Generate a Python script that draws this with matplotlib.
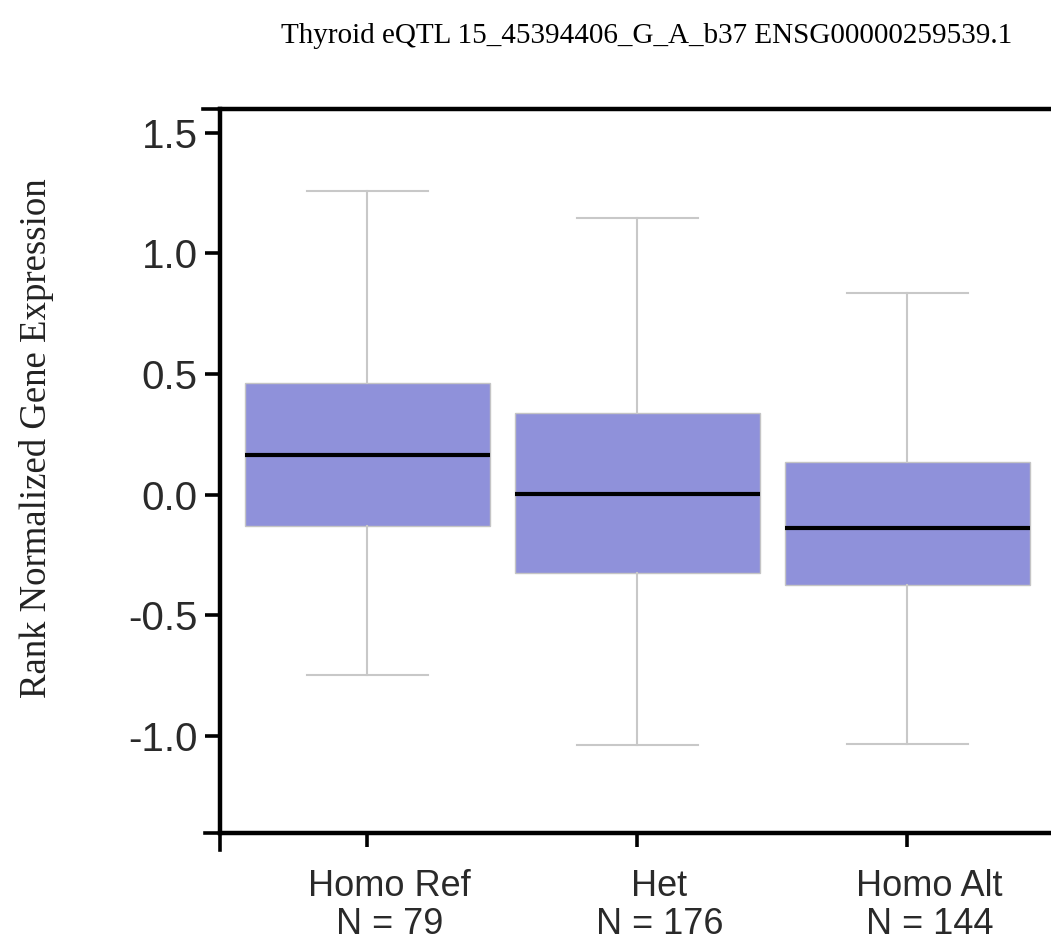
import matplotlib
matplotlib.use("Agg")
import matplotlib.pyplot as plt
import matplotlib.transforms as mtransforms

# Genotype groups and box statistics
genotypes = ["Homo Ref", "Het", "Homo Alt"]
counts = [79, 176, 144]
whisker_hi = [1.260, 1.145, 0.836]
q3 = [0.464, 0.337, 0.137]
median = [0.165, 0.004, -0.139]
q1 = [-0.128, -0.323, -0.375]
whisker_lo = [-0.747, -1.037, -1.033]
yticks = [-1.0, -0.5, 0.0, 0.5, 1.0, 1.5]

stats = []
for i in range(len(genotypes)):
    stats.append({"med": median[i], "q1": q1[i], "q3": q3[i],
                  "whislo": whisker_lo[i], "whishi": whisker_hi[i],
                  "fliers": [], "label": f"{genotypes[i]}\nN = {counts[i]}"})

fig = plt.figure(figsize=(10.51, 9.41), dpi=100)
ax = fig.add_axes([220 / 1051, 1 - 833 / 941, 831 / 1051, 724 / 941])

pos = list(range(len(genotypes)))
ax.bxp(stats, positions=pos, widths=0.907, capwidths=0.448, patch_artist=True,
       showfliers=False,
       boxprops=dict(facecolor="#8f91da", edgecolor="#c4c4c4", linewidth=1.0),
       whiskerprops=dict(color="#c8c8c8", linewidth=1.5),
       capprops=dict(color="#c8c8c8", linewidth=1.5),
       medianprops=dict(color="black", linewidth=3))

ax.set_xlim(-0.5463, 2.5315)
ax.set_ylim(-1.402, 1.598)
ax.set_yticks(yticks)
ax.set_yticklabels([f"{v:.1f}" for v in yticks])

ax.spines["right"].set_visible(False)
for s in ["left", "top", "bottom"]:
    ax.spines[s].set_linewidth(3.2)
    ax.spines[s].set_color("black")

ax.tick_params(axis="y", length=11, width=2.6, pad=5, labelsize=29, labelcolor="#2a2a2a")
ax.tick_params(axis="x", length=10, width=2.6, pad=16, labelsize=26, labelcolor="#2a2a2a")
for lab in ax.get_xticklabels() + ax.get_yticklabels():
    lab.set_fontfamily("Liberation Sans")
# the category labels sit a little right of their ticks in the reference
shift = mtransforms.ScaledTranslation(22 / 100, 0, fig.dpi_scale_trans)
for lab in ax.get_xticklabels():
    lab.set_linespacing(1.12)
    lab.set_transform(lab.get_transform() + shift)

# outer ticks at the axis ends
kw = dict(color="black", linewidth=2.6, clip_on=False, transform=ax.transAxes)
ax.plot([-17 / 831, 0], [1, 1], **kw)
ax.plot([-15 / 831, 0], [0, 0], **kw)
ax.plot([0, 0], [0, -17 / 724], **kw)

fig.text(647 / 1051, 1 - 36 / 941, "Thyroid eQTL 15_45394406_G_A_b37 ENSG00000259539.1",
         ha="center", va="center", fontsize=21, family="Liberation Serif")
fig.text(37 / 1051, 1 - 438 / 941, "Rank Normalized Gene Expression", rotation=90,
         ha="center", va="center", fontsize=26.5, family="Liberation Serif", color="#222222")

fig.savefig("out.png", dpi=100, facecolor="white")
